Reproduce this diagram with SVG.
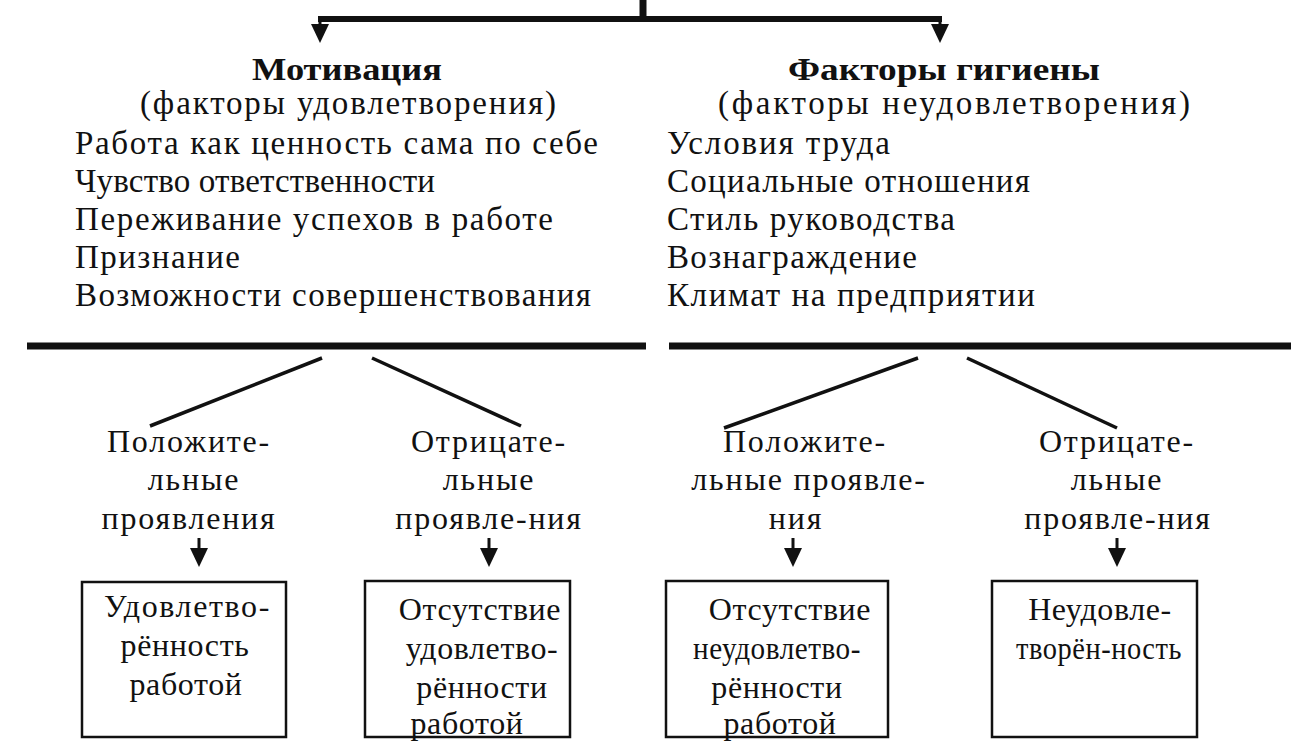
<svg xmlns="http://www.w3.org/2000/svg" width="1298" height="751" viewBox="0 0 1298 751">
<defs>
<style>
text{font-family:"Liberation Serif","DejaVu Serif",serif;fill:#111;}
.h{font-weight:bold;font-size:32px;}
.t{font-size:33px;}
.l{font-size:32px;letter-spacing:1.8px;text-anchor:middle;}
.b{font-size:32px;letter-spacing:0.6px;text-anchor:middle;}
.c{text-anchor:middle;}
.ln{stroke:#111;fill:none;}
.box{fill:#fff;stroke:#111;stroke-width:2.5;}
</style>
</defs>
<rect width="1298" height="751" fill="#fff"/>
<g id="connectors">
<line class="ln" x1="643" y1="0" x2="643" y2="19" stroke-width="7"/>
<line class="ln" x1="318" y1="19" x2="942" y2="19" stroke-width="6"/>
<path class="ln" d="M320 19 V24" stroke-width="3"/>
<path class="ln" d="M940 19 V24" stroke-width="3"/>
<path d="M311 24 L329 24 L320 43 Z" fill="#111"/>
<path d="M931 24 L949 24 L940 43 Z" fill="#111"/>
<line class="ln" x1="27" y1="346" x2="646" y2="346" stroke-width="7"/>
<line class="ln" x1="669" y1="346" x2="1291" y2="346" stroke-width="7"/>
<line class="ln" x1="322" y1="358" x2="150" y2="426" stroke-width="3.5"/>
<line class="ln" x1="372" y1="358" x2="521" y2="426" stroke-width="3.5"/>
<line class="ln" x1="918" y1="358" x2="724" y2="428" stroke-width="3.5"/>
<line class="ln" x1="967" y1="358" x2="1117" y2="428" stroke-width="3.5"/>
<line class="ln" x1="199" y1="538" x2="199" y2="550" stroke-width="3"/>
<path d="M190 548 L208 548 L199 567 Z" fill="#111"/>
<line class="ln" x1="489" y1="538" x2="489" y2="550" stroke-width="3"/>
<path d="M480 548 L498 548 L489 567 Z" fill="#111"/>
<line class="ln" x1="793" y1="538" x2="793" y2="550" stroke-width="3"/>
<path d="M784 548 L802 548 L793 567 Z" fill="#111"/>
<line class="ln" x1="1117" y1="538" x2="1117" y2="550" stroke-width="3"/>
<path d="M1108 548 L1126 548 L1117 567 Z" fill="#111"/>
</g>
<g id="motivation">
<text class="h c" x="347" y="80" textLength="190" lengthAdjust="spacingAndGlyphs">Мотивация</text>
<text class="t c" x="348" y="114" textLength="416" lengthAdjust="spacing">(факторы удовлетворения)</text>
<text class="t" x="75" y="154" textLength="523" lengthAdjust="spacing">Работа как ценность сама по себе</text>
<text class="t" x="75" y="192" textLength="360" lengthAdjust="spacing">Чувство ответственности</text>
<text class="t" x="75" y="230" textLength="478" lengthAdjust="spacing">Переживание успехов в работе</text>
<text class="t" x="75" y="268" textLength="165" lengthAdjust="spacing">Признание</text>
<text class="t" x="75" y="306" textLength="516" lengthAdjust="spacing">Возможности совершенствования</text>
</g>
<g id="hygiene">
<text class="h c" x="944" y="80" textLength="312" lengthAdjust="spacingAndGlyphs">Факторы гигиены</text>
<text class="t c" x="954" y="114" textLength="472" lengthAdjust="spacing">(факторы неудовлетворения)</text>
<text class="t" x="667" y="154" textLength="223" lengthAdjust="spacing">Условия труда</text>
<text class="t" x="667" y="192" textLength="363" lengthAdjust="spacing">Социальные отношения</text>
<text class="t" x="667" y="230" textLength="288" lengthAdjust="spacing">Стиль руководства</text>
<text class="t" x="667" y="268" textLength="250" lengthAdjust="spacing">Вознаграждение</text>
<text class="t" x="667" y="306" textLength="368" lengthAdjust="spacing">Климат на предприятии</text>
</g>
<g id="label-pos-1">
<text class="l" x="189" y="452">Положите-</text>
<text class="l" x="194" y="490">льные</text>
<text class="l" x="189" y="529">проявления</text>
</g>
<g id="label-neg-1">
<text class="l" x="489" y="452">Отрицате-</text>
<text class="l" x="489" y="490">льные</text>
<text class="l" x="489" y="529">проявле-ния</text>
</g>
<g id="label-pos-2">
<text class="l" x="805" y="452">Положите-</text>
<text class="l" x="809" y="490">льные проявле-</text>
<text class="l" x="796" y="529">ния</text>
</g>
<g id="label-neg-2">
<text class="l" x="1117" y="452">Отрицате-</text>
<text class="l" x="1117" y="490">льные</text>
<text class="l" x="1118" y="529">проявле-ния</text>
</g>
<g id="box-1">
<rect class="box" x="82" y="582" width="204" height="155"/>
<text class="b" x="187" y="617" textLength="166" lengthAdjust="spacing">Удовлетво-</text>
<text class="b" x="185" y="656">рённость</text>
<text class="b" x="186" y="695">работой</text>
</g>
<g id="box-2">
<rect class="box" x="365" y="581" width="205" height="156"/>
<text class="b" x="480" y="620">Отсутствие</text>
<text class="b" x="482" y="659">удовлетво-</text>
<text class="b" x="482" y="698">рённости</text>
<text class="b" x="467" y="734">работой</text>
</g>
<g id="box-3">
<rect class="box" x="666" y="581" width="222" height="156"/>
<text class="b" x="790" y="620">Отсутствие</text>
<text class="b" x="777" y="659" textLength="168" lengthAdjust="spacingAndGlyphs">неудовлетво-</text>
<text class="b" x="777" y="698">рённости</text>
<text class="b" x="780" y="734">работой</text>
</g>
<g id="box-4">
<rect class="box" x="992" y="581" width="205" height="156"/>
<text class="b" x="1100" y="620">Неудовле-</text>
<text class="b" x="1099" y="659" textLength="166" lengthAdjust="spacingAndGlyphs">творён-ность</text>
</g>
</svg>
